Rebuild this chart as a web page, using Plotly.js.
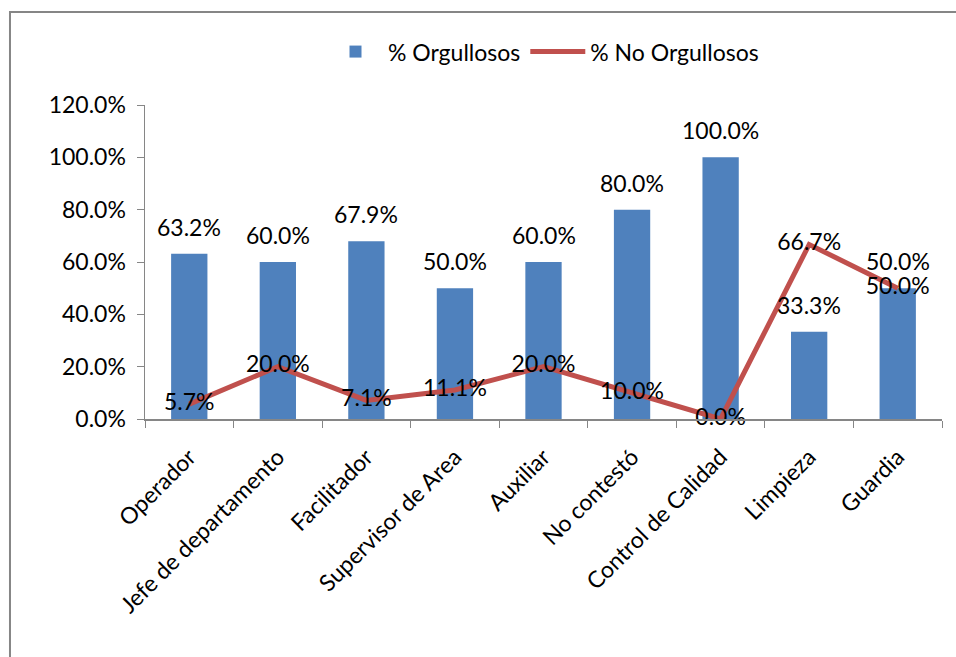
<!DOCTYPE html>
<html>
<head>
<meta charset="utf-8">
<script src="https://cdn.plot.ly/plotly-3.0.1.min.js"></script>
<style>html,body{margin:0;padding:0;background:#fff;}#chart{width:956px;height:657px;}</style>
</head>
<body>
<div id="chart"></div>
<script>
const categories = ["Operador", "Jefe de departamento", "Facilitador", "Supervisor de Area", "Auxiliar", "No contestó", "Control de Calidad", "Limpieza", "Guardia"];
const orgullosos = [0.632, 0.600, 0.679, 0.500, 0.600, 0.800, 1.000, 0.333, 0.500];
const noOrgullosos = [0.057, 0.200, 0.071, 0.111, 0.200, 0.100, 0.000, 0.667, 0.500];
const yTicks = [0, 0.2, 0.4, 0.6, 0.8, 1.0, 1.2];

const FONT = "Lato, 'Open Sans', sans-serif";
const FS = 23;
const fmt = v => (v * 100).toFixed(1) + "%";

const barTrace = {
  type: "bar", name: "% Orgullosos", x: categories, y: orgullosos,
  marker: {color: "#4F81BD"}, width: 0.41, hoverinfo: "skip"
};
const lineTrace = {
  type: "scatter", mode: "lines+text", name: "% No Orgullosos", x: categories, y: noOrgullosos,
  line: {color: "#C0504D", width: 5}, text: noOrgullosos.map(fmt),
  textposition: "middle center", textfont: {family: FONT, size: FS, color: "#000"},
  hoverinfo: "skip", cliponaxis: false
};

const annotations = categories.map((c, i) => ({
  x: c, y: orgullosos[i], xref: "x", yref: "y", text: fmt(orgullosos[i]),
  showarrow: false, yanchor: "bottom", yshift: 11,
  font: {family: FONT, size: FS, color: "#000"}
}));

const layout = {
  width: 956, height: 657,
  margin: {l: 145, r: 14, t: 105, b: 238},
  paper_bgcolor: "#fff", plot_bgcolor: "#fff",
  font: {family: FONT, size: FS, color: "#000"},
  showlegend: true,
  legend: {orientation: "h", x: 0.5, xanchor: "center", y: 1.17, yanchor: "middle",
           font: {family: FONT, size: FS, color: "#000"}, itemwidth: 55, traceorder: "normal"},
  xaxis: {type: "category", showline: true, linecolor: "#868686", linewidth: 1.5,
          ticks: "outside", tickson: "boundaries", ticklen: 7, tickcolor: "#868686",
          tickangle: -45, showgrid: false, zeroline: false, ticklabelstandoff: 14,
          tickfont: {family: FONT, size: FS, color: "#000"}},
  yaxis: {range: [0, 1.2], tickvals: yTicks, tickformat: ".1%", showline: true,
          linecolor: "#868686", linewidth: 1.5, ticks: "outside", ticklen: 7, tickcolor: "#868686",
          showgrid: false, zeroline: false, ticklabelstandoff: 6,
          tickfont: {family: FONT, size: FS, color: "#000"}},
  annotations: annotations,
  shapes: [{type: "rect", xref: "paper", yref: "paper", x0: -0.1694, x1: 1.2, y0: -1, y1: 1.296,
            line: {color: "#868686", width: 2}, fillcolor: "rgba(0,0,0,0)", layer: "below"}],
  bargap: 0.59
};

Plotly.newPlot("chart", [barTrace, lineTrace], layout, {displayModeBar: false, staticPlot: true});
</script>
</body>
</html>
